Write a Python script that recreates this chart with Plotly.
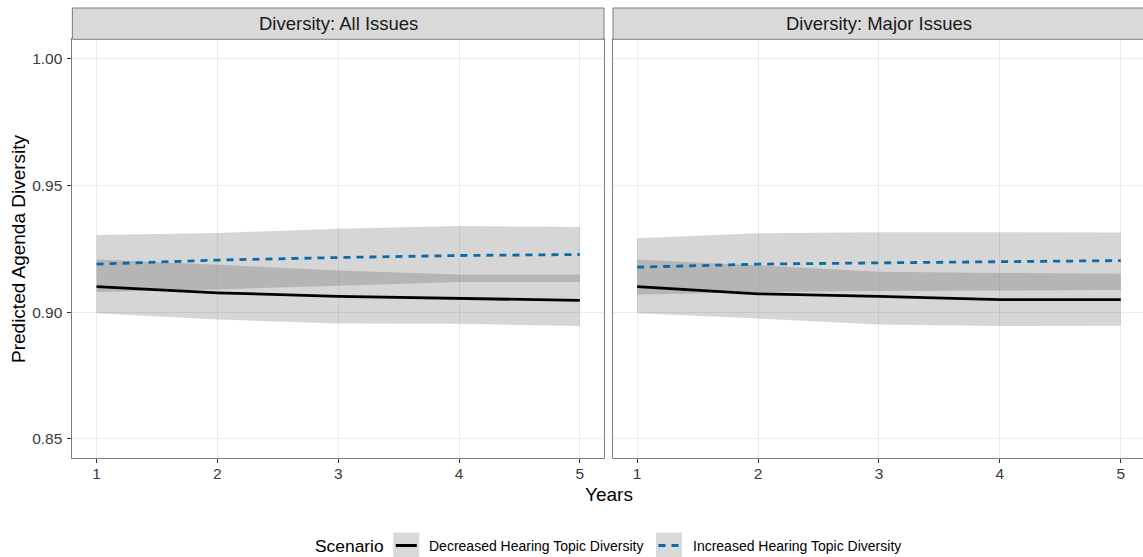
import plotly.graph_objects as go

# ---------------- data ----------------
years = [1, 2, 3, 4, 5]
panels = ["Diversity: All Issues", "Diversity: Major Issues"]
scenarios = ["Decreased Hearing Topic Diversity", "Increased Hearing Topic Diversity"]

# Diversity: All Issues
dec_all = [0.9100, 0.9076, 0.9062, 0.9054, 0.9046]
dec_all_lo = [0.8995, 0.8971, 0.8955, 0.8954, 0.8945]
dec_all_hi = [0.9207, 0.9187, 0.9164, 0.9148, 0.9148]
inc_all = [0.9189, 0.9205, 0.9215, 0.9223, 0.9227]
inc_all_lo = [0.9079, 0.9089, 0.9104, 0.9119, 0.9119]
inc_all_hi = [0.9304, 0.9312, 0.9328, 0.9339, 0.9335]

# Diversity: Major Issues
dec_maj = [0.9100, 0.9072, 0.9062, 0.9049, 0.9049]
dec_maj_lo = [0.8995, 0.8975, 0.8951, 0.8945, 0.8946]
dec_maj_hi = [0.9207, 0.9184, 0.9159, 0.9154, 0.9151]
inc_maj = [0.9177, 0.9189, 0.9194, 0.9198, 0.9203]
inc_maj_lo = [0.9068, 0.9079, 0.9083, 0.9085, 0.9087]
inc_maj_hi = [0.9291, 0.9311, 0.9315, 0.9314, 0.9314]

y_ticks = [0.85, 0.90, 0.95, 1.00]
y_tick_labels = ["0.85", "0.90", "0.95", "1.00"]

# ---------------- style ----------------
W, H = 1143, 557
FONT = "Liberation Sans, Arial, sans-serif"
RIBBON = "rgba(51,51,51,0.2)"
BLACK = "#000000"
BLUE = "#0B6BA8"
BORDER = "#7f7f7f"
GRID = "#EBEBEB"
DASH = "7px,6px"


def py(px):
    return 1 - px / H


def pxx(px):
    return px / W


fig = go.Figure()

series = [
    ("x", "y", dec_all, dec_all_lo, dec_all_hi, inc_all, inc_all_lo, inc_all_hi),
    ("x2", "y2", dec_maj, dec_maj_lo, dec_maj_hi, inc_maj, inc_maj_lo, inc_maj_hi),
]

for xa, ya, d, dlo, dhi, i, ilo, ihi in series:
    for lo, hi in [(dlo, dhi), (ilo, ihi)]:
        fig.add_trace(go.Scatter(
            x=years + years[::-1], y=lo + hi[::-1], fill="toself",
            fillcolor=RIBBON, line=dict(width=0), mode="lines",
            hoverinfo="skip", showlegend=False, xaxis=xa, yaxis=ya))
    fig.add_trace(go.Scatter(
        x=years, y=d, mode="lines", line=dict(color=BLACK, width=2.8),
        name=scenarios[0], showlegend=False, xaxis=xa, yaxis=ya))
    fig.add_trace(go.Scatter(
        x=years, y=i, mode="lines", line=dict(color=BLUE, width=2.8, dash=DASH),
        name=scenarios[1], showlegend=False, xaxis=xa, yaxis=ya))

ydom = [py(458), py(39.3)]
xdom1 = [pxx(72.4), pxx(604)]
xdom2 = [pxx(613), 1.0]

common_x = dict(
    tickvals=years, ticktext=[str(v) for v in years], showgrid=True, gridcolor=GRID,
    gridwidth=1, zeroline=False, showline=True, linecolor=BORDER, linewidth=1,
    ticks="outside", ticklen=4, tickcolor="#333333", tickwidth=1,
    tickfont=dict(family=FONT, size=15.5, color="#3a3a3a"), fixedrange=True,
    ticklabelstandoff=-3,
)
common_y = dict(
    range=[0.8425, 1.0075], tickvals=y_ticks, ticktext=y_tick_labels,
    showgrid=True, gridcolor=GRID, gridwidth=1, zeroline=False,
    showline=True, linecolor=BORDER, linewidth=1, fixedrange=True,
)

fig.update_layout(
    width=W, height=H, margin=dict(l=0, r=0, t=0, b=0),
    paper_bgcolor="white", plot_bgcolor="white", showlegend=False,
    font=dict(family=FONT, color="#000000"),
    xaxis=dict(domain=xdom1, range=[0.8, 5.2], anchor="y", mirror=True, **common_x),
    xaxis2=dict(domain=xdom2, range=[0.8, 5.184], anchor="y2", mirror=True, **common_x),
    yaxis=dict(domain=ydom, anchor="x", mirror=True, ticks="outside", ticklen=4,
               tickcolor="#333333", tickwidth=1, ticklabelstandoff=2,
               tickfont=dict(family=FONT, size=15.5, color="#3a3a3a"), **common_y),
    yaxis2=dict(domain=ydom, anchor="x2", mirror=False, ticks="",
                showticklabels=False, **common_y),
)

# strips
shapes = []
annotations = []
for k, (xd, name) in enumerate([(xdom1, panels[0]), (xdom2, panels[1])]):
    shapes.append(dict(type="rect", xref="paper", yref="paper",
                       x0=xd[0], x1=xd[1] if k == 0 else 1.002,
                       y0=py(39.3), y1=py(8),
                       fillcolor="#D9D9D9", line=dict(color=BORDER, width=1), layer="above"))
    annotations.append(dict(text=name, xref="paper", yref="paper",
                            x=(xd[0] + (xd[1] if k == 0 else pxx(1145))) / 2, y=py(23.5),
                            xanchor="center", yanchor="middle", showarrow=False,
                            font=dict(family=FONT, size=18.5, color="#1A1A1A")))

# axis titles
annotations.append(dict(text="Years", xref="paper", yref="paper", x=pxx(608.5), y=py(494),
                        xanchor="center", yanchor="middle", showarrow=False,
                        font=dict(family=FONT, size=19, color="#000000")))
annotations.append(dict(text="Predicted Agenda Diversity", xref="paper", yref="paper",
                        x=pxx(18), y=py(249), xanchor="center", yanchor="middle",
                        textangle=-90, showarrow=False,
                        font=dict(family=FONT, size=19, color="#000000")))

# legend (manual, ggplot style)
ly = py(545.5)
annotations.append(dict(text="Scenario", xref="paper", yref="paper", x=pxx(313), y=ly,
                        xanchor="left", yanchor="middle", showarrow=False,
                        font=dict(family=FONT, size=17.4, color="#000000")))
keys = [(393.3, 419.3, 428.3, BLACK, "solid", scenarios[0]),
        (656.0, 682.0, 691.5, BLUE, DASH, scenarios[1])]
for x0, x1, tx, col, dash, lab in keys:
    shapes.append(dict(type="rect", xref="paper", yref="paper", x0=pxx(x0), x1=pxx(x1),
                       y0=py(558), y1=py(532.5), fillcolor="#D9D9D9", line=dict(width=0)))
    shapes.append(dict(type="line", xref="paper", yref="paper", x0=pxx(x0 + 2.5),
                       x1=pxx(x1 - 2.5), y0=ly, y1=ly,
                       line=dict(color=col, width=3, dash=dash)))
    annotations.append(dict(text=lab, xref="paper", yref="paper", x=pxx(tx - 1), y=ly,
                            xanchor="left", yanchor="middle", showarrow=False,
                            font=dict(family=FONT, size=14, color="#000000")))

fig.update_layout(shapes=shapes, annotations=annotations)

fig.write_html("out.html")
